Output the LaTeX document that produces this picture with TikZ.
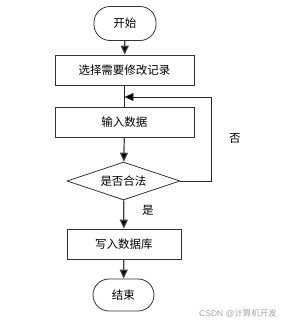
\documentclass[tikz,border=0pt]{standalone}
\usepackage{fontspec}
\setmainfont{Liberation Sans}
\newfontfamily\cjk{Noto Sans CJK SC}
\usetikzlibrary{arrows.meta,shapes.geometric}
\begin{document}
\begin{tikzpicture}[x=1pt,y=-1pt,
  font=\cjk\fontsize{11.5}{13}\selectfont,
  term/.style={draw=black!80,line width=0.8pt,rounded corners=16pt,minimum width=62pt,minimum height=34pt,inner sep=0pt},
  proc/.style={draw=black!80,line width=0.8pt,minimum width=139pt,minimum height=30pt,inner sep=0pt},
  dec/.style={draw=black!80,line width=0.8pt,diamond,aspect=3,minimum width=113pt,minimum height=38pt,inner sep=0pt},
  conn/.style={draw=black!75,line width=1.2pt,-{Triangle[length=9pt,width=8pt,fill=black]}},
  thinconn/.style={draw=black!85,line width=0.8pt,-{Triangle[length=9pt,width=8pt,fill=black]}},
  plain/.style={draw=black!85,line width=0.8pt}]
\useasboundingbox (0,0) rectangle (283,325);
\node[term] (start) at (125,23.5) {开始};
\node[proc] (sel) at (124.5,70) {选择需要修改记录};
\node[proc] (inp) at (124.5,122.5) {输入数据};
\node[dec] (chk) at (123.5,181) {是否合法};
\node[proc, minimum width=114pt] (wr) at (124,244) {写入数据库};
\node[term, minimum width=61pt, minimum height=32pt] (end) at (123.5,295) {结束};
\coordinate (loopin) at (124.5,97);
\coordinate (c1) at (211,181);
\coordinate (c2) at (211,97);
\draw[conn] (start) -- (sel);
\draw[plain] (sel) -- (inp);
\draw[conn] (inp) -- (chk);
\draw[conn] (chk) -- (wr);
\draw[conn] (wr) -- (end);
\draw[thinconn] (chk.east) -- (c1) -- (c2) -- (loopin);
\node (no) at (235,138) {否};
\node (yes) at (148,210) {是};
\node[text=black!35,font=\fontsize{8.5}{10}\selectfont] (wm) at (238,313) {CSDN @{\cjk 计算机开发}};
\end{tikzpicture}
\end{document}
